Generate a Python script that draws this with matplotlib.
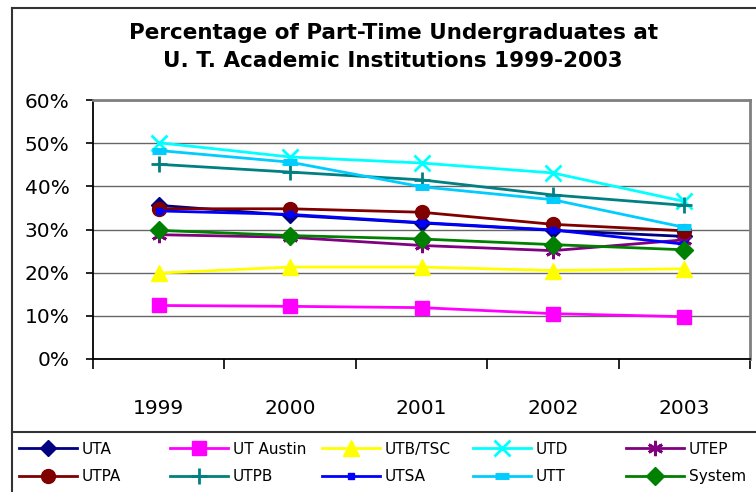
import matplotlib
matplotlib.use("Agg")
import matplotlib.pyplot as plt
from matplotlib.lines import Line2D
from matplotlib.ticker import FixedLocator, PercentFormatter

plt.rcParams['font.family'] = ['DejaVu Sans']

years = ["1999", "2000", "2001", "2002", "2003"]

uta = [35.6, 33.3, 31.5, 29.8, 28.4]
ut_austin = [12.4, 12.2, 11.9, 10.5, 9.8]
utb_tsc = [19.9, 21.3, 21.3, 20.5, 20.9]
utd = [50.1, 46.8, 45.4, 43.1, 36.5]
utep = [28.8, 28.2, 26.3, 25.1, 27.6]
utpa = [34.8, 34.8, 34.0, 31.2, 29.7]
utpb = [45.1, 43.3, 41.5, 38.0, 35.6]
utsa = [34.3, 33.5, 31.6, 29.9, 26.6]
utt = [48.3, 45.6, 39.9, 36.9, 30.5]
system = [29.8, 28.6, 27.8, 26.5, 25.3]

# name, values, color, marker, marker size
series = [
    ("UTA", uta, "#000080", "D", 8),
    ("UT Austin", ut_austin, "#FF00FF", "s", 10),
    ("UTB/TSC", utb_tsc, "#FFFF00", "^", 11),
    ("UTD", utd, "#00FFFF", "x", 11),
    ("UTEP", utep, "#800080", (6, 2, 0), 11),
    ("UTPA", utpa, "#800000", "o", 10),
    ("UTPB", utpb, "#008080", "+", 12),
    ("UTSA", utsa, "#0000FF", "s", 4),
    ("UTT", utt, "#00CCFF", "_", 10),
    ("System", system, "#008000", "D", 9),
]

fig = plt.figure(figsize=(7.56, 4.92), dpi=100)
ax = fig.add_axes([93 / 756, 1 - 359 / 492, (750 - 93) / 756, (359 - 100) / 492])

x = list(range(len(years)))
handles = {}
for name, vals, col, mk, ms in series:
    kw = dict(color=col, lw=2.0, marker=mk, markersize=ms,
              markerfacecolor=col, markeredgecolor=col, zorder=3)
    if mk in ("x", "+", (6, 2, 0)):
        kw["markeredgewidth"] = 2.0
    if mk == "_":
        kw["markeredgewidth"] = 5
    ln, = ax.plot(x, [v / 100 for v in vals], label=name, **kw)
    handles[name] = ln

ax.set_xlim(-0.5, len(years) - 0.5)
ax.set_ylim(0, 0.6)
ax.yaxis.set_major_locator(FixedLocator([i / 10 for i in range(7)]))
ax.yaxis.set_major_formatter(PercentFormatter(1.0, decimals=0))
ax.grid(axis="y", color="#666666", lw=1.0)
ax.set_axisbelow(True)

ax.set_xticks(x)
ax.set_xticklabels(years)
ax.set_xticks([i - 0.5 for i in range(len(years) + 1)], minor=True)
ax.tick_params(axis="x", which="major", length=0, pad=29, labelsize=14.5)
ax.tick_params(axis="x", which="minor", length=7, width=1.2, color="black")
ax.tick_params(axis="y", length=5, width=1.2, pad=12, labelsize=14.5)

for s in ("top", "right"):
    ax.spines[s].set_color("#808080")
    ax.spines[s].set_linewidth(2)
for s in ("left", "bottom"):
    ax.spines[s].set_color("black")
    ax.spines[s].set_linewidth(1.3)

fig.text(0.52, 0.905, "Percentage of Part-Time Undergraduates at\nU. T. Academic Institutions 1999-2003",
         ha="center", va="center", fontsize=15.5, fontweight="bold", linespacing=1.5)

# chart frame and legend box
def fx(px):
    return px / 756

def fy(py):
    return 1 - py / 492

fig.add_artist(Line2D([fx(12), fx(12)], [fy(8), fy(492)], color="#333333", lw=1.5))
fig.add_artist(Line2D([fx(12), fx(756)], [fy(8), fy(8)], color="#333333", lw=1.5))
fig.add_artist(Line2D([fx(12), fx(756)], [fy(432), fy(432)], color="#333333", lw=1.5))

# legend: five columns of two entries each
cols = [["UTA", "UTPA"], ["UT Austin", "UTPB"], ["UTB/TSC", "UTSA"],
        ["UTD", "UTT"], ["UTEP", "System"]]
col_x = [19, 170, 322, 473, 626]
for names, cx in zip(cols, col_x):
    fig.legend([handles[n] for n in names], names, loc="center left",
               bbox_to_anchor=(fx(cx), fy(463)), frameon=False, fontsize=11,
               handlelength=3.8, handletextpad=0.3, labelspacing=0.85,
               borderpad=0, borderaxespad=0)

fig.savefig("out.png", dpi=100)
